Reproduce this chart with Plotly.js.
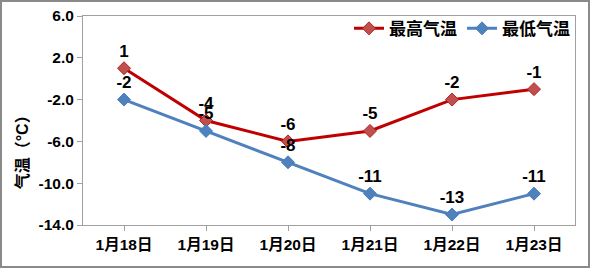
<!DOCTYPE html>
<html><head><meta charset="utf-8">
<script src="https://cdn.plot.ly/plotly-3.0.1.min.js"></script>
<style>
html,body{margin:0;padding:0;background:#fff;}
#wrap{position:relative;width:590px;height:268px;}
#chart{width:590px;height:268px;}
#frame{position:absolute;left:0;top:0;width:590px;height:268px;box-sizing:border-box;border:2px solid #8a8a8a;pointer-events:none;}
</style></head>
<body>
<div id="wrap"><div id="chart"></div><div id="frame"></div></div>
<script>
const categories = ['1月18日','1月19日','1月20日','1月21日','1月22日','1月23日'];
const maxTemp = [1, -4, -6, -5, -2, -1];
const minTemp = [-2, -5, -8, -11, -13, -11];
const yTicks = [6, 2, -2, -6, -10, -14];
const yTickLabels = ['6.0','2.0','-2.0','-6.0','-10.0','-14.0'];
const seriesNames = ['最高气温','最低气温'];
const yTitle = '气温（°C）';

const FONT = '"Liberation Sans", Arial, "Noto Sans CJK SC", sans-serif';
const labelFont = {family: FONT, size: 17, color: '#000', weight: 'bold'};

const traces = [
  {
    x: categories, y: maxTemp, name: seriesNames[0], type: 'scatter', mode: 'lines+markers+text',
    line: {color: '#C00000', width: 3},
    marker: {symbol: 'diamond', size: 10, color: '#C0504D', line: {color: '#B22222', width: 1}},
    text: maxTemp.map(String), textposition: 'top center', textfont: labelFont, cliponaxis: false
  },
  {
    x: categories, y: minTemp, name: seriesNames[1], type: 'scatter', mode: 'lines+markers+text',
    line: {color: '#4F81BD', width: 3},
    marker: {symbol: 'diamond', size: 10, color: '#4F81BD', line: {color: '#4A7EBB', width: 1}},
    text: minTemp.map(String), textposition: 'top center', textfont: labelFont, cliponaxis: false
  }
];

const layout = {
  width: 590, height: 268,
  margin: {l: 83, r: 15, t: 15, b: 43},
  paper_bgcolor: '#fff', plot_bgcolor: '#fff',
  showlegend: true,
  legend: {orientation: 'h', x: 1.0, xanchor: 'right', y: 1.02, yanchor: 'top',
           font: {family: FONT, size: 17, color: '#000', weight: 'bold'},
           bgcolor: 'rgba(255,255,255,0)', itemwidth: 30, traceorder: 'normal'},
  xaxis: {
    type: 'category', range: [-0.5, 5.5], showgrid: false, zeroline: false,
    showline: true, linecolor: '#a0a0a0', linewidth: 1, mirror: true,
    ticks: 'outside', ticklen: 5, tickcolor: '#a0a0a0',
    tickfont: {family: FONT, size: 15.5, color: '#000', weight: 'bold'}
  },
  yaxis: {
    range: [-14, 6], tickvals: yTicks, ticktext: yTickLabels, showgrid: false, zeroline: false,
    showline: true, linecolor: '#a0a0a0', linewidth: 1, mirror: true,
    ticks: 'outside', ticklen: 5, tickcolor: '#a0a0a0',
    tickfont: {family: FONT, size: 15.5, color: '#000', weight: 'bold'}
  },
  annotations: [{
    text: yTitle, xref: 'paper', yref: 'paper', x: (22 - 83) / 492, y: 0.367,
    xanchor: 'center', yanchor: 'middle', textangle: -90, showarrow: false,
    font: {family: FONT, size: 16, color: '#000', weight: 'bold'}
  }]
};

Plotly.newPlot('chart', traces, layout, {displayModeBar: false, staticPlot: true});
</script>
</body></html>
